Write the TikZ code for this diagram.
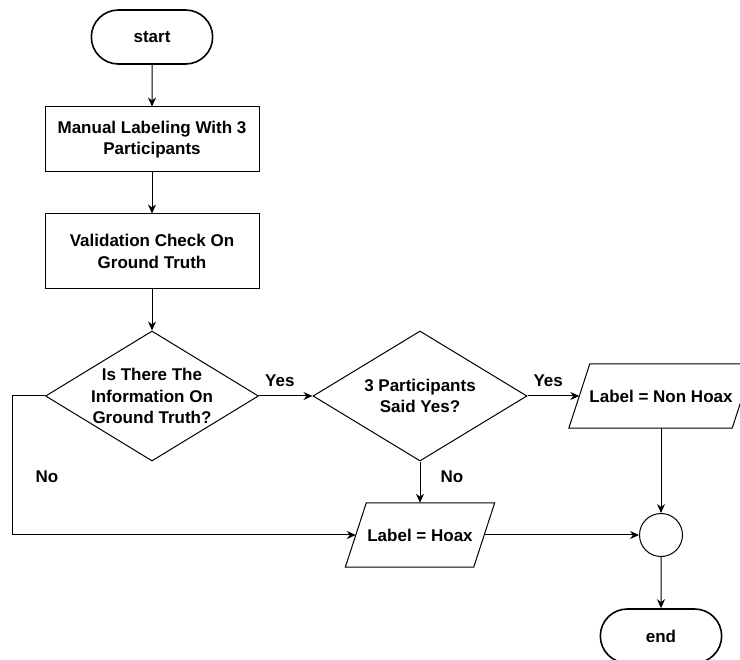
\documentclass[tikz,border=0pt]{standalone}
\usepackage{fontspec}
\setmainfont{Liberation Sans}
\usetikzlibrary{arrows.meta,positioning,shapes.geometric,shapes.misc}
\tikzset{
  termbox/.style={draw, rounded rectangle, line width=1.6pt,
    minimum width=128pt, minimum height=54pt},
  procbox/.style={draw, line width=1pt, minimum width=214pt, align=center},
  decbox/.style={draw, diamond, aspect=1.64, inner sep=0pt, line width=1pt,
    minimum width=#1, minimum height=130pt, align=center},
  iobox/.style={inner sep=0pt, minimum width=#1, minimum height=64pt},
  joinpt/.style={draw, circle, line width=1pt, minimum size=43pt, inner sep=0pt},
  flowarr/.style={-{Stealth[length=9pt,width=8pt]}, line width=1pt},
  lbl/.style={inner sep=0pt},
}

\begin{document}
\begin{tikzpicture}[x=1pt, y=-1pt,
  font=\fontsize{17}{21.5}\selectfont\bfseries,
]
  \useasboundingbox (0,0) rectangle (740,660);

  \node[termbox] (start) at (152,37) {start};
  \node[procbox, minimum height=65pt] (manual) at (152,139.5)
    {Manual Labeling With 3\\Participants};
  \node[procbox, minimum height=75pt] (valid) at (152,251.5)
    {Validation Check On\\Ground Truth};
  \node[decbox=213pt] (hasinfo) at (152,396)
    {Is There The\\Information On\\Ground Truth?};
  \node[decbox=214pt] (allyes) at (420,396) {3 Participants\\Said Yes?};
  \node[iobox=163pt] (nonhoax) at (661,396) {Label = Non Hoax};
  \node[iobox=128pt] (hoax) at (420,535) {Label = Hoax};
  \node[joinpt] (merge) at (661,535) {};
  \node[termbox] (finish) at (661,636) {end};

  % data boxes: parallelograms leaning right
  \foreach \io in {nonhoax,hoax}
    \draw[line width=1pt] ([xshift=10.5pt]\io.north west)
      -- ([xshift=10.5pt]\io.north east) -- ([xshift=-10.5pt]\io.south east)
      -- ([xshift=-10.5pt]\io.south west) -- cycle;

  \draw[flowarr] (start) -- (manual);
  \draw[flowarr] (manual) -- (valid);
  \draw[flowarr] (valid) -- (hasinfo);
  \draw[flowarr] (hasinfo) -- node[lbl, above=9pt, pos=0.39]{Yes} (allyes);
  \draw[flowarr] (allyes) -- node[lbl, above=9pt, pos=0.4]{Yes} (nonhoax);
  \draw[flowarr] (allyes) -- node[lbl, right=20pt, pos=0.38]{No} (hoax);
  \draw[flowarr] (hasinfo.west) -- ++(-33,0)
    |- node[lbl, right=23pt, pos=0.29]{No} (hoax.west);
  \draw[flowarr] (hoax) -- (merge);
  \draw[flowarr] (nonhoax) -- (merge);
  \draw[flowarr] (merge) -- (finish);
\end{tikzpicture}
\end{document}
